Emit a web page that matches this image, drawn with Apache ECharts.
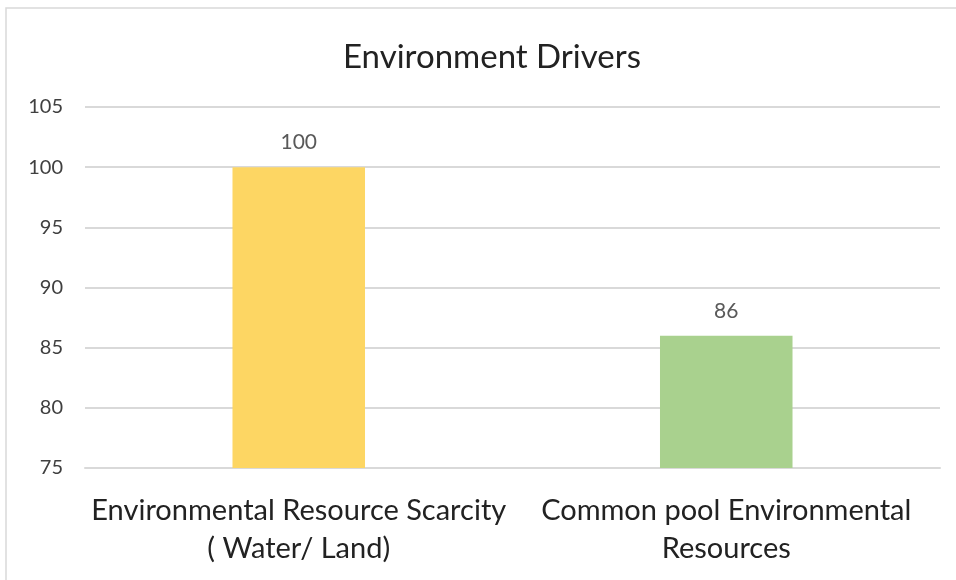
<!DOCTYPE html>
<html>
<head>
<meta charset="utf-8">
<script src="https://cdn.jsdelivr.net/npm/echarts@6/dist/echarts.min.js"></script>
<style>
  html, body { margin: 0; padding: 0; background: #fff; }
  #chart { width: 956px; height: 580px; }
</style>
</head>
<body>
<div id="chart"></div>
<script>
// Environment driver scores
const categories = [
  'Environmental Resource Scarcity\n( Water/ Land)',
  'Common pool Environmental\nResources'
];
const values = [100, 86];
const barColors = ['#FDD663', '#A9D18E'];
const yTicks = { min: 75, max: 105, interval: 5 };

const chart = echarts.init(document.getElementById('chart'));
const font = 'Lato, "Open Sans", sans-serif';

chart.setOption({
  animation: false,
  graphic: [{
    type: 'rect',
    shape: { x: 6, y: 8, width: 1000, height: 700 },
    style: { fill: 'none', stroke: '#d9d9d9', lineWidth: 1.5 },
    silent: true
  }],
  title: {
    text: 'Environment Drivers',
    left: 487,
    textAlign: 'center',
    top: 36,
    textStyle: { fontFamily: font, fontWeight: 'normal', fontSize: 33, color: '#222' }
  },
  grid: { left: 85, right: 16, top: 107, bottom: 112, containLabel: false },
  xAxis: {
    type: 'category',
    data: categories,
    axisLine: { show: true, lineStyle: { color: '#d9d9d9', width: 2 } },
    axisTick: { show: false },
    axisLabel: {
      interval: 0,
      fontFamily: font,
      fontSize: 29,
      color: '#222',
      lineHeight: 38,
      margin: 24
    }
  },
  yAxis: {
    type: 'value',
    min: yTicks.min,
    max: yTicks.max,
    interval: yTicks.interval,
    axisLine: { show: false },
    axisTick: { show: false },
    splitLine: { lineStyle: { color: '#d9d9d9', width: 2 } },
    axisLabel: { fontFamily: font, fontSize: 20, color: '#404040', margin: 22 }
  },
  series: [{
    type: 'bar',
    data: values.map((v, i) => ({ value: v, itemStyle: { color: barColors[i] } })),
    barWidth: '31%',
    label: {
      show: true,
      position: 'top',
      distance: 14,
      fontFamily: font,
      fontSize: 21,
      color: '#595959'
    }
  }]
});
</script>
</body>
</html>
